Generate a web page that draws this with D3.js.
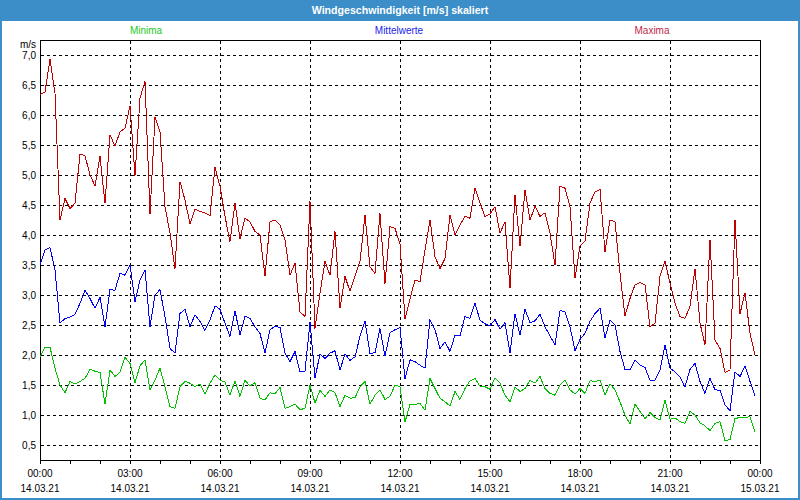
<!DOCTYPE html>
<html><head><meta charset="utf-8">
<script src="https://cdn.jsdelivr.net/npm/d3@7/dist/d3.min.js"></script>
<style>body{margin:0;background:#fff;overflow:hidden}svg{display:block}</style>
</head><body><svg id="c" width="800" height="500"></svg>
<script>
const title = "Windgeschwindigkeit [m/s] skaliert";
const unitLabel = "m/s";
const seriesNames = ["Minima", "Mittelwerte", "Maxima"];
const startTime = new Date(2021, 2, 14, 0, 0);
const endTime = new Date(2021, 2, 15, 0, 0);
const stepMinutes = 10;
const yTicks = [0.5, 1.0, 1.5, 2.0, 2.5, 3.0, 3.5, 4.0, 4.5, 5.0, 5.5, 6.0, 6.5, 7.0];

const maxima = [
6.34,6.38,6.93,6.36,4.25,4.61,4.44,4.53,5.35,5.32,
5.0,4.82,5.31,4.53,5.67,5.48,5.72,5.78,6.15,4.99,
6.28,6.56,4.35,5.96,5.72,4.47,4.03,3.44,4.89,4.58,
4.19,4.43,4.39,4.37,4.32,5.13,4.81,4.31,3.89,4.53,
3.94,4.28,4.22,4.06,4.0,3.31,4.22,4.25,4.17,3.92,
3.33,3.53,2.72,2.64,4.56,2.44,3.03,3.56,3.33,4.06,
2.78,3.31,3.06,3.31,3.56,4.33,3.47,3.36,4.36,3.19,
4.14,4.11,3.85,2.6,2.94,3.25,3.22,3.75,4.25,3.64,
3.44,3.61,4.33,4.0,4.17,4.31,4.28,4.78,4.53,4.31,
4.35,4.47,4.03,4.22,3.11,4.67,3.81,4.75,4.25,4.48,
4.31,4.37,4.03,3.5,4.81,4.78,4.47,3.28,3.82,3.9,
4.53,4.72,4.76,3.72,4.25,4.22,3.36,2.65,2.94,3.17,
3.21,3.17,2.47,2.53,3.31,3.56,3.2,2.86,2.64,2.61,
2.81,3.44,2.53,2.17,3.92,2.25,2.11,1.71,1.75,4.25,
2.69,3.03,2.36,2.0];

const mittelwerte = [
3.5,3.75,3.79,3.42,2.53,2.61,2.63,2.68,2.86,3.08,
2.94,2.78,2.96,2.47,3.09,3.08,3.36,3.33,3.5,2.89,
3.25,3.42,2.47,3.0,3.09,2.64,2.11,2.03,2.69,2.76,
2.47,2.67,2.56,2.41,2.58,2.82,2.76,2.53,2.31,2.74,
2.33,2.65,2.61,2.47,2.36,2.03,2.42,2.48,2.46,2.03,
1.89,2.06,1.72,1.73,2.55,1.61,2.02,1.94,2.03,2.07,
1.75,2.02,1.91,1.97,2.31,2.56,2.02,2.04,2.44,1.98,
2.37,2.42,2.46,1.6,1.92,1.89,1.83,1.78,2.59,2.42,
2.11,2.22,2.06,2.33,2.32,2.64,2.61,2.86,2.58,2.52,
2.49,2.59,2.43,2.54,2.03,2.69,2.33,2.76,2.54,2.57,
2.68,2.47,2.32,2.17,2.74,2.72,2.47,2.07,2.26,2.36,
2.56,2.69,2.78,2.29,2.58,2.5,2.06,1.76,1.75,1.92,
1.83,1.79,1.58,1.58,1.75,2.17,1.78,1.72,1.63,1.47,
1.76,1.86,1.56,1.36,1.61,1.42,1.41,1.17,1.07,1.72,
1.64,1.82,1.56,1.32];

const minima = [
1.97,2.13,2.13,1.78,1.5,1.37,1.56,1.52,1.56,1.61,
1.76,1.73,1.71,1.18,1.75,1.64,1.71,1.96,1.86,1.54,
1.82,1.92,1.42,1.58,1.78,1.47,1.14,1.11,1.47,1.56,
1.53,1.47,1.52,1.35,1.53,1.67,1.58,1.55,1.33,1.57,
1.31,1.58,1.48,1.54,1.28,1.25,1.37,1.35,1.46,1.11,
1.14,1.18,1.09,1.11,1.5,1.2,1.41,1.31,1.42,1.37,
1.14,1.33,1.28,1.29,1.47,1.56,1.18,1.33,1.42,1.26,
1.31,1.5,1.47,0.88,1.18,1.18,1.19,1.08,1.61,1.44,
1.28,1.22,1.15,1.39,1.26,1.44,1.57,1.61,1.48,1.47,
1.43,1.62,1.53,1.33,1.22,1.47,1.39,1.44,1.58,1.53,
1.64,1.44,1.36,1.33,1.5,1.58,1.42,1.35,1.44,1.36,
1.57,1.56,1.58,1.33,1.52,1.42,1.22,1.0,0.85,1.18,
1.06,0.94,1.04,0.96,0.92,1.25,0.93,0.95,0.89,0.86,
1.06,1.0,0.87,0.82,0.74,0.86,0.89,0.57,0.59,0.94,
0.96,0.96,0.97,0.72];

const FONT = "'Liberation Sans', Arial, sans-serif";
const svg = d3.select("#c");
const W = 800, H = 500;
const plot = {left: 40, top: 40, right: 760, bottom: 460};

// window frame
svg.append("rect").attr("x", 0).attr("y", 0).attr("width", W).attr("height", H).attr("fill", "#3c8ec8");
svg.append("rect").attr("x", 2).attr("y", 21).attr("width", W - 4).attr("height", H - 23).attr("fill", "#ffffff");
svg.append("text").attr("x", W / 2).attr("y", 14).attr("text-anchor", "middle")
  .attr("font-family", FONT).attr("font-size", "10.6px").attr("font-weight", "bold")
  .attr("fill", "#ffffff").text(title);

const x = d3.scaleTime().domain([startTime, endTime]).range([plot.left, plot.right]);
const y = d3.scaleLinear().domain([0.25, 7.25]).range([plot.bottom, plot.top]);
const xLegend = d3.scalePoint().domain(seriesNames).range([146, 652]);
const colors = {Minima: "#00c000", Mittelwerte: "#0000ff", Maxima: "#c00000"};
const legendColors = {Minima: "#1ec81e", Mittelwerte: "#2222ee", Maxima: "#c0284a"};

// legend
svg.append("g").selectAll("text").data(seriesNames).join("text")
  .attr("x", d => xLegend(d)).attr("y", 34).attr("text-anchor", "middle")
  .attr("font-family", FONT).attr("font-size", "10px")
  .attr("fill", d => legendColors[d]).text(d => d);

// horizontal grid
const grid = svg.append("g").attr("stroke", "#000").attr("stroke-dasharray", "3,3")
  .attr("shape-rendering", "crispEdges");
grid.selectAll("line.h").data(yTicks).join("line").attr("class", "h")
  .attr("x1", plot.left + 1).attr("x2", plot.right)
  .attr("y1", d => Math.round(y(d)) + 0.5).attr("y2", d => Math.round(y(d)) + 0.5);
// vertical grid every 3 hours
const vTicks = d3.timeHour.every(3).range(startTime, endTime).filter(d => +d !== +startTime);
grid.selectAll("line.v").data(vTicks).join("line").attr("class", "v")
  .attr("x1", d => Math.round(x(d)) + 0.5).attr("x2", d => Math.round(x(d)) + 0.5)
  .attr("y1", plot.top + 1).attr("y2", plot.bottom);

// y axis labels
const yAxis = svg.append("g").attr("transform", `translate(${plot.left},0)`)
  .call(d3.axisLeft(y).tickValues(yTicks).tickSize(0).tickPadding(4)
    .tickFormat(d => d3.format(".1f")(d).replace(".", ",")));
yAxis.select(".domain").remove();
yAxis.selectAll("text").attr("font-family", FONT).attr("font-size", "10px").attr("fill", "#000");
svg.append("text").attr("x", plot.left - 4).attr("y", 48).attr("text-anchor", "end")
  .attr("font-family", FONT).attr("font-size", "10px").attr("fill", "#000").text(unitLabel);

// x axis: hourly ticks, labels every 3 hours
const fmtTime = d3.timeFormat("%H:%M"), fmtDate = d3.timeFormat("%d.%m.%y");
const xAxis = svg.append("g").attr("transform", `translate(0,${plot.bottom})`)
  .call(d3.axisBottom(x).ticks(d3.timeHour.every(1)).tickSize(4).tickPadding(8).tickFormat(() => ""));
xAxis.select(".domain").remove();
xAxis.selectAll("line").attr("shape-rendering", "crispEdges");
const labelTicks = d3.timeHour.every(3).range(startTime, new Date(+endTime + 1));
const xl = svg.append("g").attr("font-family", FONT).attr("font-size", "10px").attr("fill", "#000");
xl.selectAll("text.t").data(labelTicks).join("text").attr("class", "t")
  .attr("x", d => x(d)).attr("y", 477).attr("text-anchor", "middle").text(d => fmtTime(d));
xl.selectAll("text.d").data(labelTicks).join("text").attr("class", "d")
  .attr("x", d => x(d)).attr("y", 492).attr("text-anchor", "middle").text(d => fmtDate(d));

// plot frame
svg.append("rect").attr("x", plot.left + 0.5).attr("y", plot.top + 0.5)
  .attr("width", plot.right - plot.left).attr("height", plot.bottom - plot.top)
  .attr("fill", "none").attr("stroke", "#000").attr("shape-rendering", "crispEdges");

// series
const tAt = i => new Date(+startTime + i * stepMinutes * 60000);
const line = d3.line().x((d, i) => x(tAt(i))).y(d => y(d));
const series = [["Maxima", maxima], ["Mittelwerte", mittelwerte], ["Minima", minima]];
svg.append("g").selectAll("path").data(series).join("path")
  .attr("d", d => line(d[1])).attr("fill", "none")
  .attr("stroke", d => colors[d[0]]).attr("stroke-width", 1)
  .attr("shape-rendering", "crispEdges");
</script></body></html>
